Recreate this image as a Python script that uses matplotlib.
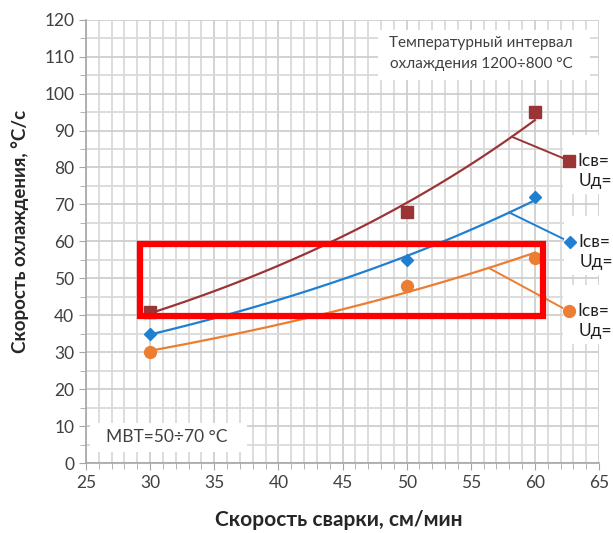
import numpy as np
import matplotlib
matplotlib.use("Agg")
import matplotlib.pyplot as plt
from matplotlib.ticker import MultipleLocator

plt.rcParams['font.family'] = ['Lato', 'DejaVu Sans']

speed = [30, 50, 60]
s1 = [41, 68, 95]     # brown squares
s2 = [35, 55, 72]     # blue diamonds
s3 = [30, 48, 55.5]   # orange circles
colors = ['#9B3535', '#1F7FD0', '#EC7D31']
markers = ['s', 'D', 'o']
msizes = [8, 6, 8.5]
series = [s1, s2, s3]
label_l1 = ['Iсв=', 'Iсв=', 'Iсв=']
label_l2 = ['Uд=', 'Uд=', 'Uд=']
# leader line start (x on trend line) and label marker position
lead_x = [58.2, 58.0, 56.4]
lab_pos = [(62.65, 81.8), (62.7, 59.9), (62.65, 41.2)]

fig = plt.figure(figsize=(6.13, 5.33), dpi=100)
ax = fig.add_axes([86/613, 1-463/533, (599-86)/613, (463-19.7)/533])
ax.set_xlim(25, 65)
ax.set_ylim(0, 120)
ax.xaxis.set_major_locator(MultipleLocator(5))
ax.xaxis.set_minor_locator(MultipleLocator(1))
ax.yaxis.set_major_locator(MultipleLocator(10))
ax.yaxis.set_minor_locator(MultipleLocator(5))
ax.grid(True, which='major', color='#CFCFCF', lw=1.3)
ax.grid(True, which='minor', color='#DADADA', lw=1.3)
ax.set_axisbelow(True)
for sp in ['top', 'right']:
    ax.spines[sp].set_visible(False)
for sp in ['left', 'bottom']:
    ax.spines[sp].set_color('#A6A6A6')
    ax.spines[sp].set_linewidth(1.2)
ax.tick_params(which='both', colors='#A6A6A6', direction='out', labelcolor='#404040', labelsize=12.5)
ax.tick_params(which='major', length=5)
ax.tick_params(which='minor', length=4)

ax.set_xlabel('Скорость сварки, см/мин', fontsize=15, fontweight='bold', color='#262626')
ax.xaxis.set_label_coords((339-86)/513, -(510-463)/443.3)
ax.set_ylabel('Скорость охлаждения, °C/с', fontsize=13.5, fontweight='bold', color='#262626')
ax.yaxis.set_label_coords(-(86-29)/513, (463-231)/443.3)

xx = np.linspace(30, 60, 100)
for ys, c, m, ms, lx, (px, py), t1, t2 in zip(series, colors, markers, msizes, lead_x, lab_pos, label_l1, label_l2):
    b, a = np.polyfit(speed, np.log(ys), 1)
    ax.plot(xx, np.exp(a + b*xx), color=c, lw=1.6, zorder=3)
    ax.plot(speed, ys, ls='none', marker=m, color=c, ms=ms, zorder=4)
    ly = np.exp(a + b*lx)
    ax.plot([lx, px - 0.5], [ly, py + 0.8], color=c, lw=1.4, zorder=3, clip_on=False)
    ax.add_patch(plt.Rectangle((px - 0.45, py - 9), 4.5, 16, facecolor='white', edgecolor='none',
                               zorder=2.5, clip_on=False))
    ax.plot([px], [py], ls='none', marker=m, color=c, ms=ms, zorder=5, clip_on=False)
    ax.text(px + 0.7, py, t1, fontsize=12.5, color='#1F1F1F', va='center', ha='left', zorder=6, clip_on=False)
    ax.text(px + 0.8, py - 5.5, t2, fontsize=12.5, color='#1F1F1F', va='center', ha='left', zorder=6, clip_on=False)

# red rectangle
ax.add_patch(plt.Rectangle((29.2, 39.8), 60.6 - 29.2, 59.3 - 39.8, facecolor='none',
                           edgecolor='#FF0000', lw=4.5, zorder=7))

ax.add_patch(plt.Rectangle((25 + (378-86)/12.83, (463-80)/3.69), 212/12.83, 50/3.69,
                           facecolor='white', edgecolor='none', zorder=5.5))
ax.text(55.8, 110.8, 'Температурный интервал\nохлаждения 1200÷800 °C', fontsize=11, color='#404040',
        ha='center', va='center', linespacing=1.6, zorder=6)
ax.add_patch(plt.Rectangle((25 + (90-86)/12.83, (463-452)/3.69), 157/12.83, 29/3.69,
                           facecolor='white', edgecolor='none', zorder=5.5))
ax.text(31.3, 7.0, 'МВТ=50÷70 °C', fontsize=12.5, color='#404040', ha='center', va='center', zorder=6)

fig.savefig('out.png', dpi=100)
